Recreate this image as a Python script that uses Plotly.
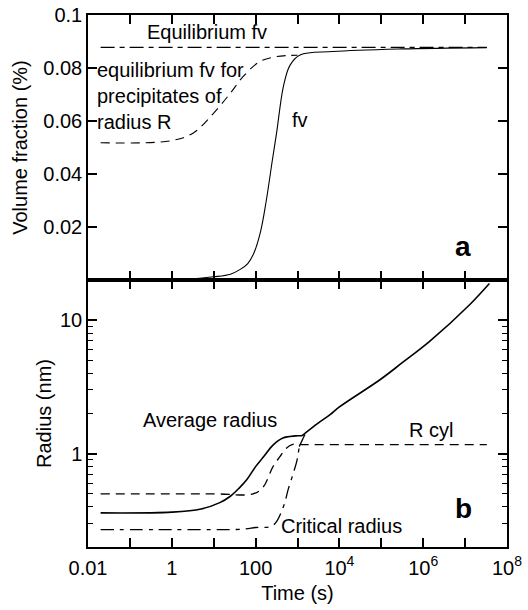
import plotly.graph_objects as go
from plotly.subplots import make_subplots

# ---------------- data ----------------
# Panel a: volume fraction (%)
fv_t = [2, 10, 25, 43, 65, 90, 130, 180, 250, 320, 460, 660, 1150, 7000, 3e5, 3.3e7]
fv_v = [0.0002, 0.0012, 0.0022, 0.004, 0.0062, 0.010, 0.018, 0.030, 0.045, 0.056,
        0.073, 0.081, 0.0849, 0.0862, 0.0872, 0.0877]

eqR_t = [0.02, 0.9, 3.2, 10, 25, 50, 126, 316, 1000]
eqR_v = [0.0518, 0.0525, 0.0554, 0.063, 0.0705, 0.0767, 0.0824, 0.0843, 0.0848]

eq_t = [0.02, 3.3e7]
eq_v = [0.0878, 0.0878]

# Panel b: radius (nm)
avg_t = [0.02, 1, 5, 14, 25, 40, 62, 100, 160, 260, 450, 900, 1300, 1500, 3000, 6000,
         1e4, 9.3e4, 3.16e5, 1.4e6, 1.3e7, 3.8e7]
avg_r = [0.36, 0.365, 0.385, 0.43, 0.48, 0.55, 0.64, 0.80, 0.96, 1.16, 1.31, 1.36, 1.37,
         1.42, 1.68, 1.96, 2.24, 3.58, 4.8, 6.9, 13.1, 18.8]

rcyl_t = [0.02, 10, 87, 150, 260, 380, 500, 740, 1500, 1e5, 3.3e7]
rcyl_r = [0.50, 0.50, 0.50, 0.56, 0.80, 0.95, 1.07, 1.17, 1.17, 1.17, 1.17]

crit_t = [0.02, 1, 50, 100, 260, 460, 600, 800, 980, 1100]
crit_r = [0.27, 0.27, 0.272, 0.28, 0.29, 0.40, 0.54, 0.72, 0.90, 1.13]
crit_tail_t = [1100, 1500]
crit_tail_r = [1.13, 1.39]

x_tickvals = [1e-2, 1, 100, 1e4, 1e6, 1e8]
x_ticktext = ["0.01", "1", "100", "10<sup>4</sup>", "10<sup>6</sup>", "10<sup>8</sup>"]
x_minor = [1e-1, 10, 1e3, 1e5, 1e7]
ya_tickvals = [0.02, 0.04, 0.06, 0.08, 0.1]
yb_tickvals = [1, 10]
yb_minor = [0.2, 0.3, 0.4, 0.5, 0.6, 0.7, 0.8, 0.9, 2, 3, 4, 5, 6, 7, 8, 9, 20]

# ---------------- figure ----------------
FONT = "Liberation Sans, Arial, sans-serif"
W, H = 528, 610
ML, MR, MT, MB = 88, 21, 15, 63
split = (547 - 280) / (H - MT - MB)
tfont = dict(size=20, color="black", family=FONT)

fig = make_subplots(rows=2, cols=1, vertical_spacing=0)

fig.add_trace(go.Scatter(x=eq_t, y=eq_v, mode="lines",
                         line=dict(color="black", width=1.1, dash="14px,5px,5px,5px")), row=1, col=1)
fig.add_trace(go.Scatter(x=eqR_t, y=eqR_v, mode="lines", line_shape="spline",
                         line=dict(color="black", width=1.1, dash="9px,6px")), row=1, col=1)
fig.add_trace(go.Scatter(x=fv_t, y=fv_v, mode="lines", line_shape="spline",
                         line=dict(color="black", width=1.1)), row=1, col=1)

fig.add_trace(go.Scatter(x=rcyl_t, y=rcyl_r, mode="lines", line_shape="spline",
                         line=dict(color="black", width=1.3, dash="9px,6px")), row=2, col=1)
fig.add_trace(go.Scatter(x=crit_t, y=crit_r, mode="lines", line_shape="spline",
                         line=dict(color="black", width=1.3, dash="13px,6px,4px,6px")), row=2, col=1)
fig.add_trace(go.Scatter(x=crit_tail_t, y=crit_tail_r, mode="lines",
                         line=dict(color="black", width=1.3)), row=2, col=1)
fig.add_trace(go.Scatter(x=avg_t, y=avg_r, mode="lines", line_shape="spline",
                         line=dict(color="black", width=1.6)), row=2, col=1)

tick_style = dict(ticks="inside", ticklen=9, tickwidth=1.6, tickcolor="black")
axis_line = dict(showline=True, linecolor="black", linewidth=1.5, mirror="allticks")

fig.update_layout(
    template="simple_white",
    xaxis=dict(type="log", range=[-2, 8], tickmode="array", tickvals=x_tickvals,
               minor=dict(tickmode="array", tickvals=x_minor, ticks="inside", ticklen=9,
                          tickwidth=1.6, tickcolor="black"),
               showticklabels=False, **tick_style, **axis_line),
    xaxis2=dict(type="log", range=[-2, 8], tickmode="array", tickvals=x_tickvals,
                ticktext=x_ticktext,
                minor=dict(tickmode="array", tickvals=x_minor, ticks="inside", ticklen=9,
                           tickwidth=1.6, tickcolor="black"),
                tickfont=tfont, ticklabelstandoff=2, **tick_style, **axis_line,
                title=dict(text="Time (s)", font=tfont, standoff=8)),
    yaxis=dict(domain=[split, 1], range=[0, 0.1], tickmode="array", tickvals=ya_tickvals,
               tickfont=tfont, **tick_style, **axis_line,
               title=dict(text="Volume fraction (%)", font=tfont, standoff=10)),
    yaxis2=dict(domain=[0, split], type="log", range=[-0.699, 1.301], tickmode="array",
                tickvals=yb_tickvals, tickfont=tfont,
                minor=dict(tickmode="array", tickvals=yb_minor, ticks="inside", ticklen=5,
                           tickwidth=1.3, tickcolor="black"),
                **tick_style, **axis_line,
                title=dict(text="Radius (nm)", font=tfont, standoff=3)),
    width=W, height=H, margin=dict(l=ML, r=MR, t=MT, b=MB, autoexpand=False),
    paper_bgcolor="white", plot_bgcolor="white", showlegend=False,
    font=dict(family=FONT, size=20, color="black"),
)

PW = W - ML - MR
PH = H - MT - MB


def px(x, y):
    return (x - ML) / PW, (H - MB - y) / PH


def note(text, x, y, size=20, xanchor="center", align="center"):
    xp, yp = px(x, y)
    fig.add_annotation(xref="paper", yref="paper", x=xp, y=yp, text=text, showarrow=False,
                       xanchor=xanchor, yanchor="middle", align=align,
                       font=dict(size=size, color="black", family=FONT))


note("Equilibrium fv", 207, 32)
note("equilibrium fv for<br>precipitates of<br>radius R", 95, 96, xanchor="left", align="left")
note("fv", 300, 120)
note("<b>a</b>", 463, 246, size=28)
note("Average radius", 210, 420)
note("R cyl", 431, 430)
note("Critical radius", 341, 526)
note("<b>b</b>", 463, 508, size=28)

fig.write_html("out.html", config={"displayModeBar": False},
               post_script="document.body.style.margin='0px';document.body.style.overflow='hidden';")
